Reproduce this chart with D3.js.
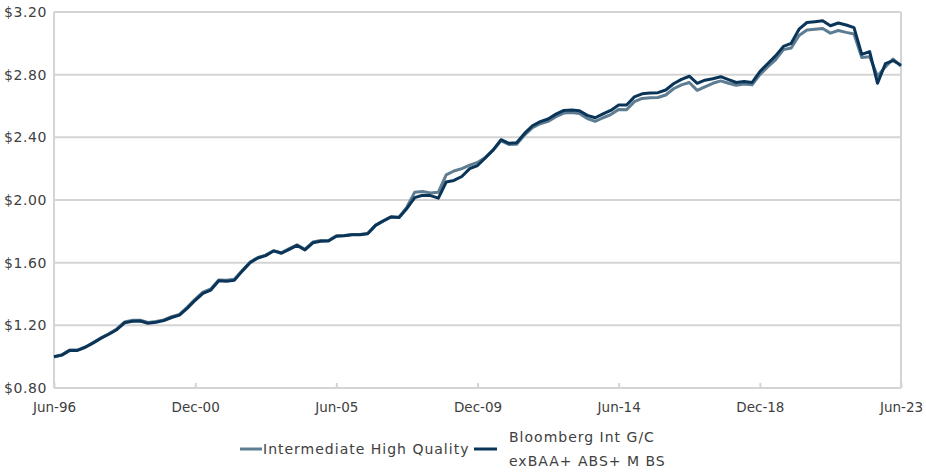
<!DOCTYPE html>
<html>
<head>
<meta charset="utf-8">
<script src="https://cdn.jsdelivr.net/npm/d3@7"></script>
<style>
  body { margin: 0; background: #fff; }
  text { font-family: "DejaVu Sans", sans-serif; fill: #404040; }
</style>
</head>
<body>
<div id="chart"></div>
<script>
// quarterly growth of $1, Jun-96 .. Jun-23
var startDate = new Date(1996, 5, 1);
var ihq = [
  1.000, 1.012, 1.042, 1.042, 1.062, 1.090, 1.120, 1.146, 1.176, 1.222,
  1.232, 1.233, 1.218, 1.224, 1.234, 1.255, 1.270, 1.316, 1.368, 1.412,
  1.432, 1.490, 1.488, 1.494, 1.550, 1.604, 1.633, 1.648, 1.676, 1.664,
  1.690, 1.714, 1.686, 1.732, 1.742, 1.742, 1.772, 1.774, 1.780, 1.780,
  1.787, 1.840, 1.868, 1.893, 1.890, 1.955, 2.050, 2.055, 2.045, 2.050,
  2.160, 2.185, 2.200, 2.222, 2.240, 2.272, 2.318, 2.378, 2.355, 2.356,
  2.414, 2.462, 2.487, 2.502, 2.532, 2.555, 2.558, 2.552, 2.520, 2.502,
  2.525, 2.545, 2.578, 2.576, 2.628, 2.648, 2.652, 2.654, 2.670, 2.710,
  2.735, 2.750, 2.700, 2.722, 2.745, 2.760, 2.745, 2.732, 2.740, 2.735,
  2.800, 2.850, 2.895, 2.960, 2.970, 3.050, 3.085, 3.090, 3.095, 3.065,
  3.082, 3.070, 3.060, 2.910, 2.915, 2.790, 2.850, 2.900, 2.855
];
var bbg = [
  1.000, 1.010, 1.040, 1.040, 1.060, 1.088, 1.118, 1.143, 1.172, 1.216,
  1.226, 1.228, 1.213, 1.220, 1.230, 1.250, 1.265, 1.310, 1.360, 1.404,
  1.425, 1.484, 1.482, 1.487, 1.546, 1.600, 1.630, 1.645, 1.675, 1.660,
  1.685, 1.710, 1.681, 1.727, 1.737, 1.738, 1.769, 1.772, 1.778, 1.778,
  1.785, 1.838, 1.866, 1.892, 1.889, 1.946, 2.015, 2.030, 2.028, 2.012,
  2.115, 2.125, 2.150, 2.200, 2.220, 2.268, 2.320, 2.385, 2.362, 2.365,
  2.425, 2.474, 2.500, 2.517, 2.548, 2.572, 2.575, 2.570, 2.540, 2.525,
  2.550, 2.572, 2.606, 2.606, 2.658, 2.678, 2.683, 2.685, 2.702, 2.742,
  2.770, 2.790, 2.745, 2.765, 2.774, 2.787, 2.768, 2.750, 2.757, 2.750,
  2.820, 2.870, 2.920, 2.980, 3.000, 3.090, 3.133, 3.138, 3.144, 3.112,
  3.130, 3.117, 3.100, 2.930, 2.947, 2.745, 2.870, 2.890, 2.860
];
var yTicks = [0.8, 1.2, 1.6, 2.0, 2.4, 2.8, 3.2];
var xTickLabels = ['Jun-96', 'Dec-00', 'Jun-05', 'Dec-09', 'Jun-14', 'Dec-18', 'Jun-23'];
var seriesNames = ['Intermediate High Quality', ['Bloomberg Int G/C', 'exBAA+ ABS+ M BS']];
var colors = ['#5e7d92', '#0b3558'];

var width = 926, height = 472;
var margin = { top: 12, right: 25, bottom: 84, left: 54 };
var svg = d3.select('#chart').append('svg')
  .attr('width', width)
  .attr('height', height);

var dates = ihq.map(function (d, i) { return d3.timeMonth.offset(startDate, 3 * i); });
var tickDates = xTickLabels.map(function (d, i) { return d3.timeMonth.offset(startDate, 54 * i); });

var x = d3.scaleTime()
  .domain([startDate, dates[dates.length - 1]])
  .range([margin.left, width - margin.right]);
var y = d3.scaleLinear()
  .domain([0.8, 3.2])
  .range([height - margin.bottom, margin.top]);

// gridlines
svg.append('g').selectAll('line')
  .data(yTicks)
  .enter().append('line')
  .attr('x1', margin.left).attr('x2', width - margin.right)
  .attr('y1', d => y(d)).attr('y2', d => y(d))
  .attr('stroke', '#d4d4d4').attr('stroke-width', 2);

// frame sides
svg.append('g').selectAll('line')
  .data([margin.left, width - margin.right])
  .enter().append('line')
  .attr('x1', d => d).attr('x2', d => d)
  .attr('y1', margin.top).attr('y2', height - margin.bottom)
  .attr('stroke', '#d4d4d4').attr('stroke-width', 2);

// y axis labels
var yAxis = d3.axisLeft(y)
  .tickValues(yTicks)
  .tickSize(0)
  .tickPadding(7)
  .tickFormat(d => '$' + d3.format('.2f')(d));
svg.append('g')
  .attr('transform', 'translate(' + margin.left + ',0)')
  .call(yAxis)
  .call(g => g.select('.domain').remove())
  .selectAll('text')
  .style('font-size', '14px')
  .style('letter-spacing', '0.6px');

// x axis
var xAxis = d3.axisBottom(x)
  .tickValues(tickDates)
  .tickSize(-5)
  .tickPadding(14)
  .tickFormat((d, i) => xTickLabels[i]);
svg.append('g')
  .attr('transform', 'translate(0,' + (height - margin.bottom) + ')')
  .call(xAxis)
  .call(g => g.select('.domain').remove())
  .call(g => g.selectAll('.tick line').attr('stroke', '#d4d4d4').attr('stroke-width', 2))
  .selectAll('text')
  .style('font-size', '13.5px');

// lines
var line = d3.line()
  .x((d, i) => x(dates[i]))
  .y(d => y(d));

[ihq, bbg].forEach(function (s, k) {
  svg.append('path')
    .datum(s)
    .attr('fill', 'none')
    .attr('stroke', colors[k])
    .attr('stroke-width', 3)
    .attr('stroke-linejoin', 'round')
    .attr('d', line);
});

// legend
var legend = svg.append('g')
  .style('font-size', '14px')
  .style('letter-spacing', '1px');
legend.append('line')
  .attr('x1', 240).attr('x2', 262).attr('y1', 449).attr('y2', 449)
  .attr('stroke', colors[0]).attr('stroke-width', 3);
legend.append('text')
  .attr('x', 263).attr('y', 454)
  .text(seriesNames[0]);
legend.append('line')
  .attr('x1', 474).attr('x2', 497).attr('y1', 449).attr('y2', 449)
  .attr('stroke', colors[1]).attr('stroke-width', 3);
legend.append('text')
  .attr('x', 509).attr('y', 442)
  .selectAll('tspan')
  .data(seriesNames[1])
  .enter().append('tspan')
  .attr('x', 509)
  .attr('dy', (d, i) => i ? 24 : 0)
  .text(d => d);
</script>
</body>
</html>
